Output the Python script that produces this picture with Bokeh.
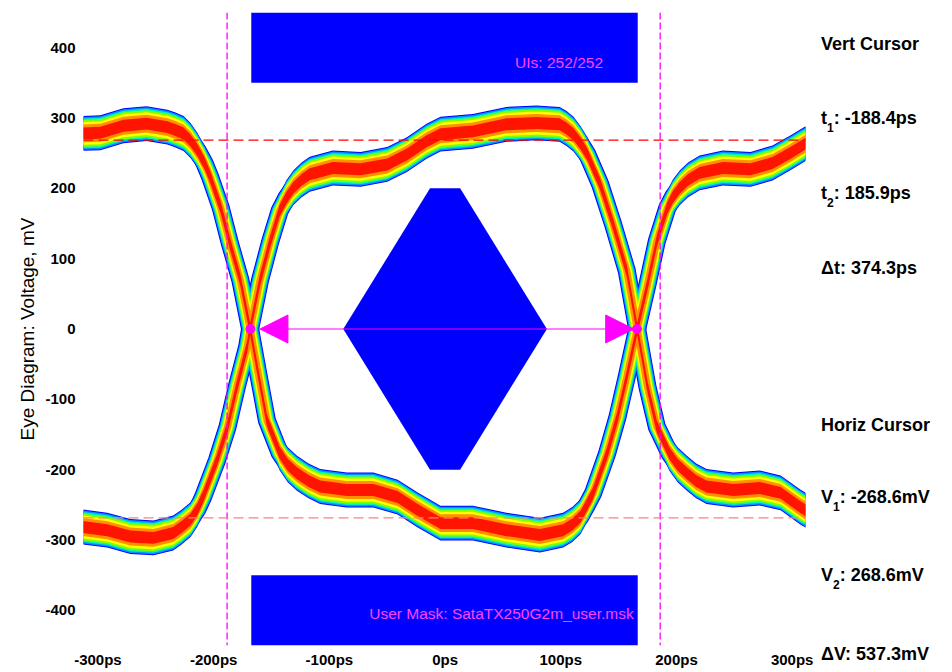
from bokeh.plotting import figure
from bokeh.layouts import row
from bokeh.models import Range1d, FixedTicker, Span, Label, Arrow, NormalHead, Div
from bokeh.embed import file_html
from bokeh.resources import INLINE

# ---------------- data ----------------
# Eye trace centre lines (time ps, voltage mV)
path_a_t = [-315, -298, -278, -258, -240, -233, -226, -220, -214, -208, -203, -194, -186, -177, -168.5, -162,
            -154, -143, -136, -128, -118, -108, -85, -62, -41, -24, -4, 24, 53, 82, 102, 110, 117, 122, 128,
            140, 149, 157, 166, 175, 183, 192, 197, 203, 210, 220, 240, 264, 283, 298, 314]
path_a_v = [278, 279, 289, 292, 287, 283, 278, 268, 254, 236, 216, 173, 122, 70, 0, -59,
            -130, -176, -193, -205, -216, -224, -229, -229, -239, -257, -276, -276, -286, -293, -286, -278, -267,
            -252, -233, -177, -125, -68, 0, 64, 125, 172, 188, 201, 212, 222, 229, 227, 236, 250, 266]
path_b_t = [-315, -292, -272, -252, -235, -228, -220, -214, -209, -197, -188, -180, -171, -168.5, -160, -151,
            -143, -137, -131, -124, -117, -97, -73, -50, -33, -16, -4, 24, 53, 79, 99, 105, 111, 117, 123, 134,
            145, 157, 166, 175, 183, 194, 201, 209, 217, 226, 249, 272, 290, 307, 314]
path_b_v = [-281, -286, -295, -297, -290, -282, -271, -256, -238, -186, -139, -82, -25, 0, 69, 125,
            168, 187, 201, 212, 220, 229, 227, 234, 248, 267, 277, 281, 291, 293, 291, 285, 277, 264, 248, 206,
            150, 83, 0, -83, -139, -177, -193, -205, -216, -224, -229, -226, -233, -253, -260]

# mask (ps, mV)
mask_rect_left = [-167.5, -167.5]
mask_rect_right = [166.5, 166.5]
mask_rect_bottom = [350, -450]
mask_rect_top = [450, -350]
mask_poly_t = [-88, -13, 13, 88, 13, -13]
mask_poly_v = [0, 200, 200, 0, -200, -200]

# cursors / measurements
t1, t2 = -188.4, 185.9
v1, v2 = -268.6, 268.6
delta_t = 374.3
delta_v = 537.3
cross_t = [-168.2, 165.8]
cross_v = [0, 0]
arrow_t = [-160, 163]
uis_text = "UIs: 252/252"
mask_text = "User Mask: SataTX250G2m_user.msk"

x_ticks = [-300, -200, -100, 0, 100, 200, 300]
x_tick_labels = ["-300ps", "-200ps", "-100ps", "0ps", "100ps", "200ps", "300ps"]
y_ticks = [-400, -300, -200, -100, 0, 100, 200, 300, 400]
y_tick_labels = ["-400", "-300", "-200", "-100", "0", "100", "200", "300", "400"]

# ---------------- main figure ----------------
FONT = "Liberation Sans"
X0, X1 = -312.5, 311.5
Y0, Y1 = -450, 450
p = figure(width=815, height=670, x_range=Range1d(X0, X1), y_range=Range1d(Y0, Y1),
           output_backend="svg", toolbar_location=None,
           min_border_left=83, min_border_right=10, min_border_top=12, min_border_bottom=23)
p.outline_line_color = None
p.grid.visible = False
p.background_fill_color = "white"
p.border_fill_color = "white"

for ax in (p.xaxis[0], p.yaxis[0]):
    ax.axis_line_color = None
    ax.major_tick_line_color = None
    ax.minor_tick_line_color = None
    ax.major_tick_out = 0
    ax.major_tick_in = 0
    ax.major_label_text_font = FONT
    ax.major_label_text_font_style = "bold"
    ax.major_label_text_font_size = "15px"
    ax.major_label_text_color = "black"

p.xaxis.ticker = FixedTicker(ticks=x_ticks)
p.xaxis.major_label_overrides = {t: s for t, s in zip(x_ticks, x_tick_labels)}
p.xaxis.major_label_standoff = 5
p.yaxis.ticker = FixedTicker(ticks=y_ticks)
p.yaxis.major_label_overrides = {t: s for t, s in zip(y_ticks, y_tick_labels)}
p.yaxis.major_label_standoff = 8
p.yaxis.axis_label = "Eye Diagram: Voltage, mV"
p.yaxis.axis_label_text_font = FONT
p.yaxis.axis_label_text_font_style = "normal"
p.yaxis.axis_label_text_font_size = "19px"
p.yaxis.axis_label_text_color = "black"
p.yaxis.axis_label_standoff = 4

# ---------------- eye traces (density-like colour layers) ----------------
PX_PER_MV = 635 / (Y1 - Y0)
layers = [("#0000FF", 35, 18), ("#0090FF", 33, 16), ("#00F0C0", 30, 14), ("#80FF00", 27, 12),
          ("#FFFF00", 23, 10), ("#FF9000", 18, 7), ("#FF1400", 12, 0)]
paths = [(path_a_t, path_a_v), (path_b_t, path_b_v)]
for color, D, w in layers:
    h = D / 2 / PX_PER_MV
    for tt, vv in paths:
        p.varea(x=tt, y1=[v - h for v in vv], y2=[v + h for v in vv], fill_color=color)
        if w:
            p.line(tt, vv, line_width=w, line_color=color, line_join="round", line_cap="butt")

# ---------------- mask ----------------
p.quad(left=mask_rect_left, right=mask_rect_right, bottom=mask_rect_bottom, top=mask_rect_top,
       fill_color="#0000FF", line_color=None)
p.patch(mask_poly_t, mask_poly_v, fill_color="#0000FF", line_color=None)

# ---------------- eye width arrow ----------------
MAG = "#FF00FF"
p.add_layout(Arrow(x_start=arrow_t[0], y_start=0, x_end=arrow_t[1], y_end=0, line_color=MAG, line_width=1,
                   start=NormalHead(size=28, fill_color=MAG, line_color=MAG),
                   end=NormalHead(size=28, fill_color=MAG, line_color=MAG)))
p.scatter(cross_t, cross_v, size=9, fill_color=MAG, line_color=MAG)

# ---------------- cursors ----------------
for t in (t1, t2):
    p.add_layout(Span(location=t, dimension="height", line_color=MAG, line_width=1.3, line_dash="7 3"))
p.add_layout(Span(location=v2, dimension="width", line_color="#FF0000", line_width=1.3, line_dash="10 5"))
p.add_layout(Span(location=v1, dimension="width", line_color="#FF8080", line_width=1.3, line_dash="10 5"))

# ---------------- texts in the mask ----------------
PINK = "#FF44FF"
p.add_layout(Label(x=136.5, y=379, text=uis_text, text_align="right", text_baseline="middle",
                   text_font=FONT, text_font_size="15.5px", text_color=PINK))
p.add_layout(Label(x=163, y=-405, text=mask_text, text_align="right",
                   text_baseline="middle", text_font=FONT, text_font_size="15.5px", text_color=PINK))

# ---------------- right-hand readout panel ----------------
rows_top = [44, 118, 193, 268, 425, 497, 575, 654]   # row centres (px)
SUB = '<span style="font-size:12px;position:relative;top:8px;">%s</span>'
rows_html = [
    "Vert Cursor",
    "t" + SUB % "1" + ": %.1fps" % t1,
    "t" + SUB % "2" + ": %.1fps" % t2,
    "\u0394t: %.1fps" % delta_t,
    "Horiz Cursor",
    "V" + SUB % "1" + ": %.1fmV" % v1,
    "V" + SUB % "2" + ": %.1fmV" % v2,
    "\u0394V: %.1fmV" % delta_v,
]
inner = "".join(
    '<div style="position:absolute;left:6px;top:%dpx;height:22px;line-height:22px;white-space:nowrap;">%s</div>'
    % (c - 11, h) for c, h in zip(rows_top, rows_html))
html = ('<div style="position:relative;width:135px;height:670px;margin:0;padding:0;'
        'font-family:\'Liberation Sans\';font-weight:bold;font-size:18px;color:black;">%s</div>' % inner)
readout = Div(text=html, width=135, height=670, margin=0,
              styles={"font-family": "Liberation Sans", "font-weight": "bold", "font-size": "18px",
                      "color": "black", "margin": "0", "padding": "0"})

layout = row(p, readout, spacing=0)
open("out.html", "w").write(file_html(layout, INLINE))
